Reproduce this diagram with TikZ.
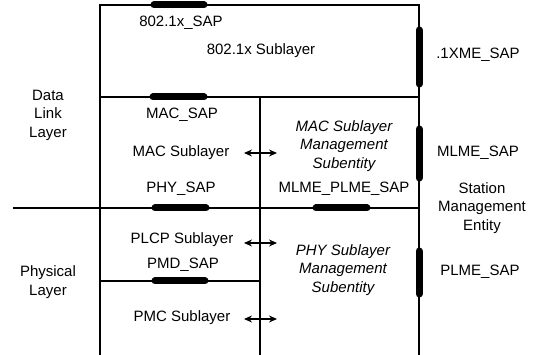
\documentclass[tikz,border=0pt]{standalone}
\usepackage{fontspec}
\setmainfont{Liberation Sans}
\usetikzlibrary{arrows.meta}
\begin{document}
\begin{tikzpicture}[x=1pt, y=-1pt, line width=1.4pt, >={Stealth[length=8pt,width=7pt]},
    lbl/.style={font=\fontsize{15}{18.5}\selectfont, align=center, inner sep=0pt},
    sublbl/.style={lbl, font=\fontsize{15}{18.5}\selectfont\itshape},
    sapbar/.style={line width=7pt, line cap=round}]
    \useasboundingbox (0,0) rectangle (542,355);
    \coordinate (TL) at (100,5);
    \coordinate (TR) at (419,5);
    \coordinate (BL) at (100,355);
    \coordinate (BR) at (419,355);
    \coordinate (MidT) at (260,97);
    \coordinate (MidB) at (260,355);
    \coordinate (DLL) at (100,97);
    \coordinate (DLR) at (419,97);
    \coordinate (PhL) at (13,208);
    \coordinate (PhR) at (419,208);
    \coordinate (PmdL) at (100,281);
    \coordinate (PmdR) at (260,281);

    \draw (BL) -- (TL) -- (TR) -- (BR);
    \draw (DLL) -- (DLR);
    \draw (MidT) -- (MidB);
    \draw (PhL) -- (PhR);
    \draw (PmdL) -- (PmdR);

    \draw[sapbar] (154,5) -- (204,5);
    \draw[sapbar] (153,97) -- (204,97);
    \draw[sapbar] (155,208) -- (206,208);
    \draw[sapbar] (155,281) -- (205,281);
    \draw[sapbar] (316,208) -- (367,208);
    \draw[sapbar] (419,30) -- (419,84);
    \draw[sapbar] (419,129) -- (419,178);
    \draw[sapbar] (419,251) -- (419,294);

    \node[lbl] (SAPx) at (181,23) {802.1x\_SAP};
    \node[lbl] (SubX) at (261,51) {802.1x Sublayer};
    \node[lbl] (XME) at (478,55) {.1XME\_SAP};
    \node[lbl] (DLink) at (48,115) {Data\\Link\\Layer};
    \node[lbl] (SAPmac) at (182,115) {MAC\_SAP};
    \node[lbl] (SubMAC) at (181,153) {MAC Sublayer};
    \node[sublbl] (MLMEsub) at (344,146) {MAC Sublayer\\Management\\Subentity};
    \node[lbl] (MLME) at (478,153) {MLME\_SAP};
    \node[lbl] (SAPphy) at (181,189) {PHY\_SAP};
    \node[lbl] (SAPmp) at (344,189) {MLME\_PLME\_SAP};
    \node[lbl] (SME) at (482,208) {Station\\Management\\Entity};
    \node[lbl] (SubPLCP) at (182,240) {PLCP Sublayer};
    \node[lbl] (SAPpmd) at (183,265) {PMD\_SAP};
    \node[lbl] (Phys) at (48,282) {Physical\\Layer};
    \node[sublbl] (PLMEsub) at (343,270) {PHY Sublayer\\Management\\Subentity};
    \node[lbl] (PLME) at (480,272) {PLME\_SAP};
    \node[lbl] (SubPMC) at (182,318) {PMC Sublayer};

    \coordinate (a1) at (244,153);
    \coordinate (b1) at (277,153);
    \coordinate (a2) at (244,243);
    \coordinate (b2) at (277,243);
    \coordinate (a3) at (244,319);
    \coordinate (b3) at (277,319);
    \path[<->] (a1) edge (b1);
    \path[<->] (a2) edge (b2);
    \path[<->] (a3) edge (b3);
\end{tikzpicture}
\end{document}
